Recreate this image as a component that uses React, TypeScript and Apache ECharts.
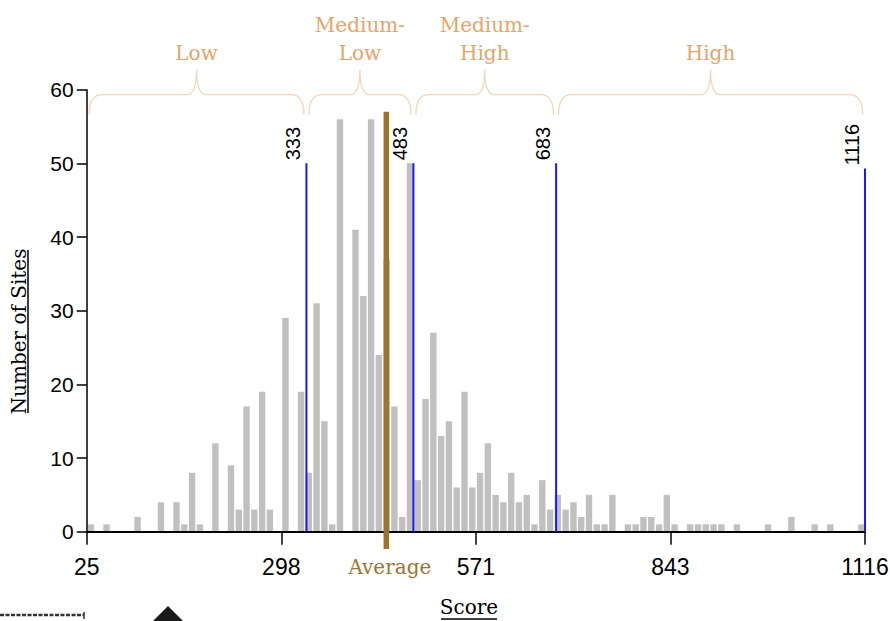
import React, { useEffect, useRef } from "react";
import * as echarts from "echarts";

// ---- data ----
const X_MIN = 25;
const X_MAX = 1116;
const BIN_COUNT = 100;
const BIN_WIDTH = (X_MAX - X_MIN) / BIN_COUNT;

const binCounts = [
  1, 0, 1, 0, 0, 0, 2, 0, 0, 4,
  0, 4, 1, 8, 1, 0, 12, 0, 9, 3,
  17, 3, 19, 3, 0, 29, 0, 19, 8, 31,
  15, 1, 56, 0, 41, 32, 56, 24, 37, 17,
  2, 50, 7, 18, 27, 13, 15, 6, 19, 6,
  8, 12, 5, 4, 8, 4, 5, 1, 7, 3,
  5, 3, 4, 2, 5, 1, 1, 5, 0, 1,
  1, 2, 2, 1, 5, 1, 0, 1, 1, 1,
  1, 1, 0, 1, 0, 0, 0, 1, 0, 0,
  2, 0, 0, 1, 0, 1, 0, 0, 0, 1,
];

const xTickLabels = ["25", "298", "571", "843", "1116"];
const yTicks = [0, 10, 20, 30, 40, 50, 60];

const cutoffScores = [333, 483, 683, 1116];
const cutoffTops = [50, 50, 50, 49.3];

const averageScore = 445;
const averageTop = 57;
const averageBottom = -2.35;

const bandNames = ["Low", "Medium-\nLow", "Medium-\nHigh", "High"];
const bandStarts = [25, 333, 483, 683];
const bandEnds = [333, 483, 683, 1116];

const sx = (s: number) => s - X_MIN;

export default function App() {
  const ref = useRef<HTMLDivElement>(null);
  useEffect(() => {
    document.body.style.margin = "0";
    const chart = echarts.init(ref.current!, undefined, { renderer: "svg" });

    const histData = binCounts
      .map((c, i) => [sx(X_MIN + i * BIN_WIDTH), sx(X_MIN + (i + 1) * BIN_WIDTH), c])
      .filter((d) => d[2] > 0);

    const cutoffData = cutoffScores.map((s, i) => [sx(s), cutoffTops[i], s]);
    const bandData = bandNames.map((n, i) => [sx(bandStarts[i]), sx(bandEnds[i]), i]);

    const sansFont = '"Liberation Sans", Arial, sans-serif';
    const serifFont = '"DejaVu Serif", serif';

    const option: any = {
      animation: false,
      grid: {
        left: 86.7,
        right: 25,
        top: 89.7,
        bottom: 89.3,
        containLabel: false,
        outerBoundsMode: "none",
      },
      xAxis: {
        type: "value",
        min: 0,
        max: X_MAX - X_MIN,
        interval: (X_MAX - X_MIN) / 4,
        z: 3,
        axisLine: { show: true, lineStyle: { color: "#000", width: 2 } },
        axisTick: { show: true, length: 13, lineStyle: { color: "#000", width: 1.5 } },
        axisLabel: {
          color: "#000",
          fontFamily: sansFont,
          fontSize: 23,
          margin: 24,
          formatter: (v: number, idx: number) =>
            xTickLabels[idx] !== undefined ? xTickLabels[idx] : String(Math.round(v + X_MIN)),
        },
        splitLine: { show: false },
      },
      yAxis: {
        type: "value",
        min: yTicks[0],
        max: yTicks[yTicks.length - 1],
        interval: 10,
        z: 3,
        axisLine: { show: true, lineStyle: { color: "#000", width: 1.5 } },
        axisTick: { show: true, length: 10, lineStyle: { color: "#000", width: 1.5 } },
        axisLabel: { color: "#000", fontFamily: sansFont, fontSize: 21, margin: 13 },
        splitLine: { show: false },
      },
      series: [
        {
          type: "custom",
          name: "hist",
          z: 1,
          data: histData,
          encode: { x: [0, 1], y: 2 },
          renderItem: (params: any, api: any) => {
            const p0 = api.coord([api.value(0), api.value(2)]);
            const p1 = api.coord([api.value(1), 0]);
            return {
              type: "rect",
              shape: { x: p0[0] + 1, y: p0[1], width: p1[0] - p0[0] - 1.4, height: p1[1] - p0[1] },
              style: { fill: "#C0C0C0" },
            };
          },
        },
        {
          type: "custom",
          name: "cutoffs",
          z: 4,
          data: cutoffData,
          encode: { x: 0, y: 1 },
          renderItem: (params: any, api: any) => {
            const top = api.coord([api.value(0), api.value(1)]);
            const bot = api.coord([api.value(0), 0]);
            return {
              type: "group",
              children: [
                {
                  type: "line",
                  shape: { x1: top[0], y1: top[1], x2: bot[0], y2: bot[1] },
                  style: { stroke: "#1a1aff", lineWidth: 2 },
                },
                {
                  type: "text",
                  x: top[0] - 13.5,
                  y: top[1] - 3,
                  rotation: Math.PI / 2,
                  style: {
                    text: String(api.value(2)),
                    font: `20px ${sansFont}`,
                    fill: "#000",
                    align: "left",
                    verticalAlign: "middle",
                  },
                },
              ],
            };
          },
        },
        {
          type: "custom",
          name: "average",
          z: 5,
          data: [[sx(averageScore), averageTop, averageBottom]],
          encode: { x: 0, y: 1 },
          renderItem: (params: any, api: any) => {
            const top = api.coord([api.value(0), api.value(1)]);
            const bot = api.coord([api.value(0), api.value(2)]);
            const axisY = api.coord([api.value(0), 0])[1];
            return {
              type: "group",
              children: [
                {
                  type: "line",
                  shape: { x1: top[0], y1: top[1], x2: bot[0], y2: bot[1] },
                  style: { stroke: "#A0722A", lineWidth: 5.5 },
                },
                {
                  type: "text",
                  x: top[0] + 3.5,
                  y: axisY + 35,
                  style: {
                    text: "Average",
                    font: `20px ${serifFont}`,
                    fill: "#9E7430",
                    align: "center",
                    verticalAlign: "middle",
                  },
                },
              ],
            };
          },
        },
        {
          type: "custom",
          name: "bands",
          z: 2,
          data: bandData,
          encode: { x: [0, 1] },
          renderItem: (params: any, api: any) => {
            const yRef = api.coord([0, 60])[1];
            const xa = api.coord([api.value(0), 0])[0] + 2.5;
            const xb = api.coord([api.value(1), 0])[0] - 2.5;
            const xt = (xa + xb) / 2;
            const ye = yRef + 25;
            const yh = yRef + 5;
            const yt = yRef - 20;
            const r = 13;
            const r2 = 10;
            const d =
              `M${xa} ${ye} Q${xa} ${yh} ${xa + r} ${yh} L${xt - r2} ${yh} ` +
              `Q${xt} ${yh} ${xt} ${yt} Q${xt} ${yh} ${xt + r2} ${yh} ` +
              `L${xb - r} ${yh} Q${xb} ${yh} ${xb} ${ye}`;
            const idx = api.value(2);
            return {
              type: "group",
              children: [
                {
                  type: "path",
                  shape: { pathData: d },
                  style: { stroke: "#F5D5BA", fill: "none", lineWidth: 1.3 },
                },
                {
                  type: "text",
                  x: xt,
                  y: yRef - 23,
                  style: {
                    text: bandNames[idx],
                    font: `20px ${serifFont}`,
                    fill: "#E6A468",
                    align: "center",
                    verticalAlign: "bottom",
                    lineHeight: 28,
                  },
                },
              ],
            };
          },
        },
      ],
      graphic: [
        {
          type: "text",
          x: 18.5,
          y: 331.5,
          rotation: Math.PI / 2,
          style: {
            text: "Number of Sites",
            font: `20px ${serifFont}`,
            fill: "#000",
            align: "center",
            verticalAlign: "middle",
          },
        },
        {
          type: "line",
          shape: { x1: 28, y1: 250, x2: 28, y2: 413 },
          style: { stroke: "#000", lineWidth: 1.5 },
        },
        {
          type: "text",
          x: 469,
          y: 607,
          style: {
            text: "Score",
            font: `20px ${serifFont}`,
            fill: "#000",
            align: "center",
            verticalAlign: "middle",
          },
        },
        {
          type: "line",
          shape: { x1: 441, y1: 619, x2: 497, y2: 619 },
          style: { stroke: "#000", lineWidth: 1.5 },
        },
        {
          type: "polygon",
          shape: { points: [[153, 621], [168, 606], [183, 621]] },
          style: { fill: "#1a1a1a" },
        },
        {
          type: "line",
          shape: { x1: 0, y1: 615, x2: 84, y2: 615 },
          style: { stroke: "#333", lineWidth: 2.5, lineDash: [4, 1.5] },
        },
        {
          type: "line",
          shape: { x1: 84, y1: 612, x2: 84, y2: 619 },
          style: { stroke: "#333", lineWidth: 1.5 },
        },
      ],
    };

    chart.setOption(option);
    return () => chart.dispose();
  }, []);

  return <div ref={ref} style={{ width: 890, height: 621 }} />;
}
